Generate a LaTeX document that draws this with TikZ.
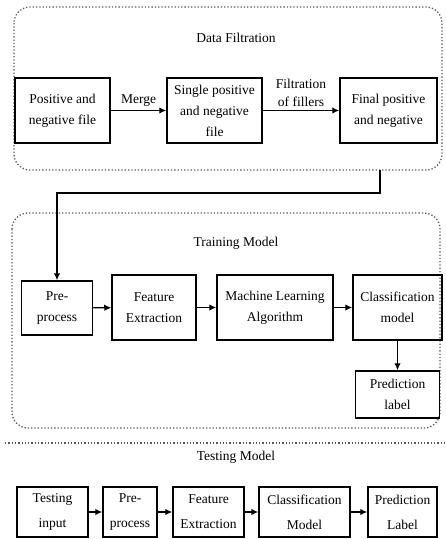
\documentclass[tikz,border=0pt]{standalone}
\usepackage{fontspec}
\setmainfont{Liberation Serif}
\usetikzlibrary{arrows.meta}
\begin{document}
\begin{tikzpicture}[x=1pt,y=-1pt,
 box/.style={draw, line width=1.5pt, align=center, inner sep=1pt, font=\fontsize{13.5}{21}\selectfont},
 tbox/.style={box, font=\fontsize{13.5}{25}\selectfont},
 frame/.style={draw=gray!70!black, dotted, line width=1.3pt, rounded corners=16pt},
 arr/.style={-{Latex[length=7pt,width=6.5pt]}, line width=1.3pt},
 lbl/.style={font=\fontsize{13.5}{18}\selectfont, align=center, inner sep=1pt}
]
\useasboundingbox (0,0) rectangle (446,539);
% Data filtration
\draw[frame] (14,7) rectangle (442,170);
\node[lbl] (t1) at (236,38) {Data Filtration};
\node[box, minimum width=95, minimum height=65] (p1) at (62.5,110.5) {Positive and\\negative file};
\node[box, minimum width=95, minimum height=65] (p2) at (214.5,110.5) {Single positive\\and negative\\file};
\node[box, minimum width=97, minimum height=65] (p3) at (388.5,110.5) {Final positive\\and negative};
\draw[arr] (p1) -- node[lbl, above=2pt] (m) {Merge} (p2);
\draw[arr] (p2) -- node[lbl, above=2pt] (f) {Filtration\\of fillers} (p3);
% Training
\draw[frame] (12,213) rectangle (440,428);
\node[lbl] (t2) at (236,243) {Training Model};
\node[box, minimum width=71, minimum height=54] (pre) at (57,308) {Pre-\\process};
\node[box, minimum width=84, minimum height=65] (fe) at (154,307.5) {Feature\\Extraction};
\node[box, minimum width=116, minimum height=65] (ml) at (275,307.5) {Machine Learning\\Algorithm};
\node[box, minimum width=89, minimum height=65] (cm) at (397.5,307.5) {Classification\\model};
\node[box, minimum width=84, minimum height=47] (pl) at (397.5,394.5) {Prediction\\label};
\draw[arr] (pre) -- (fe);
\draw[arr] (fe) -- (ml);
\draw[arr] (ml) -- (cm);
\draw[arr] (cm) -- (pl);
\coordinate (c1) at (380,170);
\draw[arr] (c1) -- (380,193) -| (pre.north);
% Testing
\draw[gray!70!black, dotted, line width=1.3pt] (5,443) -- (446,443);
\node[lbl] (t3) at (236,457) {Testing Model};
\node[tbox, minimum width=71, minimum height=50] (ti) at (52.5,512) {Testing\\input};
\node[tbox, minimum width=54, minimum height=50] (tp) at (130,512) {Pre-\\process};
\node[tbox, minimum width=71, minimum height=50] (tf) at (208.5,512) {Feature\\Extraction};
\node[tbox, minimum width=91, minimum height=50] (tc) at (304.5,512) {Classification\\Model};
\node[tbox, minimum width=69, minimum height=50] (tl) at (402.5,512) {Prediction\\Label};
\draw[arr] (ti) -- (tp);
\draw[arr] (tp) -- (tf);
\draw[arr] (tf) -- (tc);
\draw[arr] (tc) -- (tl);
\end{tikzpicture}
\end{document}
